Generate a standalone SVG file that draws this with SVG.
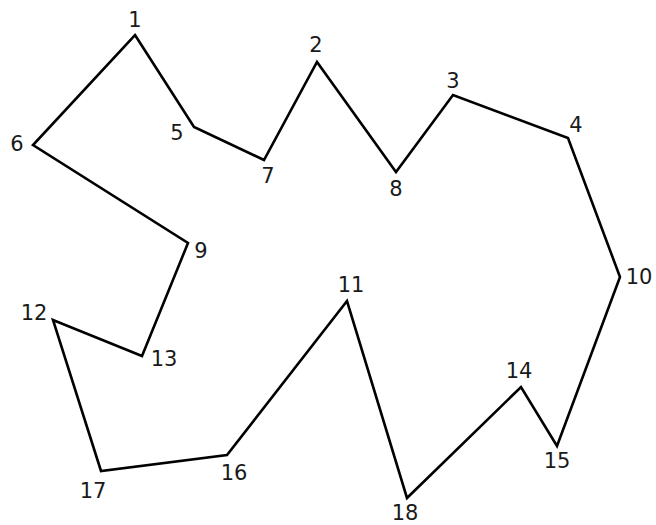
<svg xmlns="http://www.w3.org/2000/svg" width="656" height="525" viewBox="0 0 656 525">
<style>
.edge{fill:none;stroke:#000;stroke-width:2.6;stroke-linejoin:miter;stroke-miterlimit:10}
.lbl{font-family:"DejaVu Sans","Verdana",sans-serif;font-size:21px;fill:#1a1a1a;text-anchor:middle}
</style>
<rect width="656" height="525" fill="#fff"/>
<g id="connectors">
<polygon class="edge" points="135,35 194,127 264,160 317,62 396,172 453,95 568,138 620,277 557,446 521,387 407,498 347,301 227,455 101,471 53,320 142,356 188,243 33,145"/>
</g>
<g id="n1"><text class="lbl" x="135" y="27">1</text></g>
<g id="n2"><text class="lbl" x="316" y="52">2</text></g>
<g id="n3"><text class="lbl" x="453" y="88">3</text></g>
<g id="n4"><text class="lbl" x="576" y="132">4</text></g>
<g id="n5"><text class="lbl" x="177" y="140">5</text></g>
<g id="n6"><text class="lbl" x="17" y="151">6</text></g>
<g id="n7"><text class="lbl" x="268" y="183">7</text></g>
<g id="n8"><text class="lbl" x="396" y="196">8</text></g>
<g id="n9"><text class="lbl" x="201" y="258">9</text></g>
<g id="n10"><text class="lbl" x="639" y="284">10</text></g>
<g id="n11"><text class="lbl" x="351" y="292">11</text></g>
<g id="n12"><text class="lbl" x="34" y="320">12</text></g>
<g id="n13"><text class="lbl" x="164" y="366">13</text></g>
<g id="n14"><text class="lbl" x="519" y="378">14</text></g>
<g id="n15"><text class="lbl" x="557" y="468">15</text></g>
<g id="n16"><text class="lbl" x="234" y="480">16</text></g>
<g id="n17"><text class="lbl" x="93" y="498">17</text></g>
<g id="n18"><text class="lbl" x="405" y="520">18</text></g>
</svg>
